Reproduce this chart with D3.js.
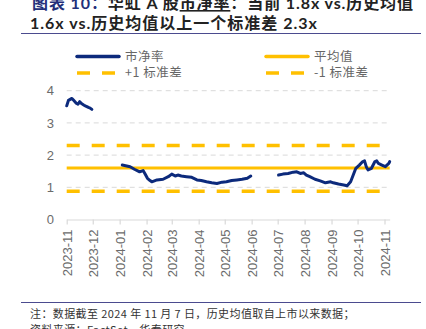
<!DOCTYPE html>
<html>
<head>
<meta charset="utf-8">
<script src="https://cdn.jsdelivr.net/npm/d3@7"></script>
<style>
  html, body { margin: 0; padding: 0; background: #fff; }
  svg { display: block; }
</style>
</head>
<body>
<svg id="chart" width="426" height="329"></svg>
<script>
// Huahong A-share P/B, daily closes (null marks a break in the line)
const dates = [
  "2023-11-01","2023-11-03","2023-11-07","2023-11-09","2023-11-12","2023-11-14","2023-11-16","2023-11-18",
  "2023-11-21","2023-11-23","2023-11-26","2023-11-28","2023-11-30",
  "2023-12-15",
  "2024-01-04","2024-01-13","2024-01-18","2024-01-24","2024-01-28","2024-01-30","2024-02-02","2024-02-05",
  "2024-02-07","2024-02-13","2024-02-20","2024-02-26","2024-03-01","2024-03-05","2024-03-08","2024-03-12",
  "2024-03-18","2024-03-24","2024-03-30","2024-04-04","2024-04-10","2024-04-16","2024-04-22","2024-04-28",
  "2024-05-03","2024-05-09","2024-05-15","2024-05-21","2024-05-27","2024-05-31",
  "2024-06-15",
  "2024-07-02","2024-07-07","2024-07-13","2024-07-19","2024-07-23","2024-07-27","2024-07-31","2024-08-03",
  "2024-08-07","2024-08-13","2024-08-19","2024-08-25","2024-08-31","2024-09-03","2024-09-09","2024-09-15",
  "2024-09-19","2024-09-23","2024-09-26","2024-09-29","2024-10-03","2024-10-07","2024-10-09","2024-10-11",
  "2024-10-13","2024-10-17","2024-10-21","2024-10-23","2024-10-25","2024-10-29","2024-11-02","2024-11-06",
  "2024-11-07"
];
const pbValues = [
  3.53,3.70,3.76,3.70,3.61,3.58,3.66,3.60,
  3.55,3.52,3.48,3.46,3.42,
  null,
  1.69,1.64,1.56,1.48,1.52,1.43,1.28,1.21,
  1.17,1.23,1.25,1.33,1.41,1.35,1.38,1.35,
  1.33,1.31,1.23,1.21,1.17,1.14,1.12,1.16,
  1.17,1.21,1.23,1.25,1.28,1.35,
  null,
  1.38,1.41,1.43,1.47,1.48,1.43,1.45,1.38,
  1.33,1.25,1.20,1.14,1.17,1.14,1.10,1.07,
  1.05,1.17,1.38,1.59,1.69,1.80,1.82,1.64,
  1.54,1.59,1.80,1.82,1.74,1.69,1.64,1.74,
  1.80
];
const meanPB = 1.6;
const plusOneSD = 2.3;
const minusOneSD = 0.88;
const yTicks = [0, 1, 2, 3, 4];
const xDomain = ["2023-11-01", "2024-11-07"];

const titleLine1Lead = "图表 10：";
const titleLine1Parts = ["华虹 A 股", "市净率", "：当前 1.8x vs.历史均值"];
const titleLine2 = "1.6x vs.历史均值以上一个标准差 2.3x";
const noteText = "注：数据截至 2024 年 11 月 7 日，历史均值取自上市以来数据；";
const sourceText = "资料来源：FactSet，华泰研究";
const legendLabels = ["市净率", "平均值", "+1 标准差", "-1 标准差"];

const parse = d3.timeParse("%Y-%m-%d");
const series = dates.map((d, i) => ({ date: parse(d), v: pbValues[i] }));

const svg = d3.select("#chart");
const cjk = "'Noto Sans CJK SC', sans-serif";
const latin = "Lato, 'Noto Sans CJK SC', sans-serif";

const navy = "#0c2a7c";
const gold = "#ffc000";
const grayText = "#6b6b6b";

// ---- Title ----
const t1 = svg.append("text")
  .attr("x", 32).attr("y", 9)
  .attr("font-family", latin).attr("font-size", 16).attr("font-weight", 700)
  .attr("letter-spacing", 0.9);
t1.append("tspan").attr("fill", "#23307a").text(titleLine1Lead);
t1.append("tspan").attr("fill", "#222").text(titleLine1Parts[0]);
t1.append("tspan").attr("fill", "#222").attr("text-decoration", "underline").text(titleLine1Parts[1]);
t1.append("tspan").attr("fill", "#222").text(titleLine1Parts[2]);

svg.append("text")
  .attr("x", 30).attr("y", 29)
  .attr("font-family", latin).attr("font-size", 16).attr("font-weight", 700)
  .attr("letter-spacing", 1)
  .attr("fill", "#222").text(titleLine2);

svg.append("line").attr("x1", 21).attr("x2", 421).attr("y1", 33.5).attr("y2", 33.5)
  .attr("stroke", "#4b4b8f").attr("stroke-width", 1);

// ---- Scales ----
const x = d3.scaleTime().domain(xDomain.map(parse)).range([66.7, 389.7]);
const y = d3.scaleLinear().domain([0, 4]).range([219.5, 90.7]);

// ---- Gridlines ----
svg.append("g").selectAll("line")
  .data(yTicks.filter(t => t > 0))
  .join("line")
  .attr("x1", 66.7).attr("x2", 389.7)
  .attr("y1", d => y(d)).attr("y2", d => y(d))
  .attr("stroke", "#d9d9d9").attr("stroke-width", 1)
  .attr("stroke-dasharray", "5,4");

// ---- Y axis (labels only) ----
const yAxis = d3.axisLeft(y).tickValues(yTicks).tickFormat(d3.format("d"))
  .tickSize(0).tickPadding(0);
const gy = svg.append("g").attr("transform", "translate(54,0)").call(yAxis);
gy.select(".domain").remove();
gy.selectAll("text")
  .attr("font-family", "'Liberation Sans', Arial, sans-serif")
  .attr("font-size", 13).attr("fill", grayText);

// ---- X axis ----
const xAxis = d3.axisBottom(x)
  .ticks(d3.timeMonth.every(1))
  .tickFormat(d3.timeFormat("%Y-%m"))
  .tickSize(5).tickSizeOuter(0);
const gx = svg.append("g").attr("transform", `translate(0,${y(0)})`).call(xAxis);
gx.select(".domain").attr("stroke", "#d9d9d9").attr("stroke-width", 1.2);
gx.selectAll(".tick line").attr("stroke", "#d9d9d9").attr("stroke-width", 1.2);
gx.selectAll(".tick text")
  .attr("font-family", "'Liberation Sans', Arial, sans-serif")
  .attr("font-size", 13).attr("fill", grayText)
  .attr("text-anchor", "end")
  .attr("transform", "rotate(-90)")
  .attr("x", -10).attr("y", 0).attr("dy", "0.35em");

// ---- Reference lines ----
const refs = [
  { v: plusOneSD, dash: "13,12" },
  { v: minusOneSD, dash: "13,12" },
  { v: meanPB, dash: null }
];
svg.append("g").selectAll("line")
  .data(refs)
  .join("line")
  .attr("x1", 66.7).attr("x2", 389.7)
  .attr("y1", d => y(d.v)).attr("y2", d => y(d.v))
  .attr("stroke", gold)
  .attr("stroke-width", d => d.dash ? 3.5 : 3)
  .attr("stroke-dasharray", d => d.dash);

// ---- P/B line ----
const line = d3.line()
  .defined(d => d.v !== null)
  .x(d => x(d.date)).y(d => y(d.v))
  .curve(d3.curveLinear);
svg.append("path")
  .datum(series)
  .attr("fill", "none")
  .attr("stroke", navy)
  .attr("stroke-width", 3)
  .attr("stroke-linejoin", "round")
  .attr("stroke-linecap", "round")
  .attr("d", line);

// ---- Legend ----
const legendItems = [
  { label: legendLabels[0], color: navy, dash: null, x: 77, y: 56.5 },
  { label: legendLabels[1], color: gold, dash: null, x: 266, y: 56.5 },
  { label: legendLabels[2], color: gold, dash: "13,12", x: 77, y: 73 },
  { label: legendLabels[3], color: gold, dash: "13,12", x: 266, y: 73 }
];
const lg = svg.append("g").selectAll("g").data(legendItems).join("g")
  .attr("transform", d => `translate(${d.x},${d.y})`);
lg.append("line")
  .attr("x1", 0).attr("x2", 42).attr("y1", 0).attr("y2", 0)
  .attr("stroke", d => d.color).attr("stroke-width", 3.5)
  .attr("stroke-linecap", d => d.dash ? "butt" : "round")
  .attr("stroke-dasharray", d => d.dash);
lg.append("text")
  .attr("x", 48).attr("y", 0).attr("dy", "0.35em")
  .attr("font-family", cjk).attr("font-size", 12.5).attr("fill", "#666")
  .attr("letter-spacing", 0.5)
  .text(d => d.label);

// ---- Footer ----
svg.append("line").attr("x1", 21).attr("x2", 421).attr("y1", 302.5).attr("y2", 302.5)
  .attr("stroke", "#4b4b8f").attr("stroke-width", 1);
svg.append("text").attr("x", 30).attr("y", 318)
  .attr("font-family", cjk).attr("font-size", 11).attr("fill", "#333")
  .attr("letter-spacing", 0.4)
  .text(noteText);
svg.append("text").attr("x", 30).attr("y", 334)
  .attr("font-family", cjk).attr("font-size", 11).attr("fill", "#333")
  .attr("letter-spacing", 0.4)
  .text(sourceText);
</script>
</body>
</html>
